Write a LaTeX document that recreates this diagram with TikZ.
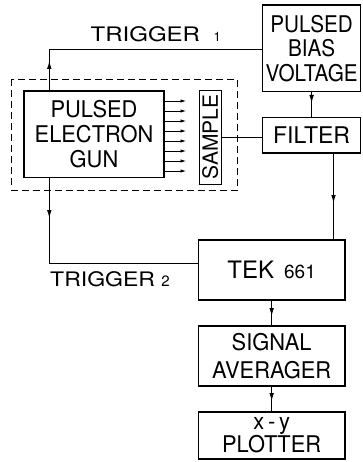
\documentclass[tikz,border=0pt]{standalone}
\usepackage{fontspec}
\setmainfont{TeX Gyre Heros}
\newfontfamily\hv{TeX Gyre Heros}
\newfontfamily\hvA[FakeStretch=0.95]{TeX Gyre Heros}
\newfontfamily\hvB[FakeStretch=0.9]{TeX Gyre Heros}
\newfontfamily\hvW[FakeStretch=1.2]{TeX Gyre Heros}
\newfontfamily\hvV[FakeStretch=1.15]{TeX Gyre Heros}
\usetikzlibrary{arrows.meta}
\begin{document}
\begin{tikzpicture}[x=1pt,y=-1pt,
  box/.style={draw, line width=1.1pt, inner sep=0pt, align=center},
  conn/.style={line width=0.8pt},
  tipline/.style={line width=0.8pt, -{Latex[length=8pt,width=4.6pt]}},
  beam/.style={line width=0.7pt, -{Latex[length=5.5pt,width=3.4pt]}},
  lbl/.style={anchor=base west, inner sep=0pt}
]
\useasboundingbox (0,0) rectangle (362,462);

% dashed enclosure
\draw[line width=0.8pt, dash pattern=on 7pt off 4pt] (11.7,79.5) rectangle (237.3,190.5);

% boxes
\node[box, minimum width=140pt, minimum height=86.5pt, font=\hvA\fontsize{23}{25}\selectfont] (gun) at (94,134.25) {PULSED\\ELECTRON\\GUN};
\node[box, minimum width=98.5pt, minimum height=86.7pt, font=\hvB\fontsize{23}{24.5}\selectfont] (bias) at (311.6,48.4) {PULSED\\BIAS\\VOLTAGE};
\node[box, minimum width=98.5pt, minimum height=35.7pt, font=\hv\fontsize{23}{25}\selectfont] (filter) at (311.6,135.2) {FILTER};
\node[box, line width=0.9pt, minimum width=21.7pt, minimum height=94.3pt, font=\hv\fontsize{21}{21}\selectfont] (sample) at (210.15,137.15) {\rotatebox{90}{SAMPLE}};
\node[box, minimum width=146.7pt, minimum height=60pt, font=\hv\fontsize{24}{24}\selectfont] (tek) at (271.65,270) {TEK\hspace{10pt}{\fontsize{19}{19}\selectfont 661}};
\node[box, minimum width=146.7pt, minimum height=60pt, font=\hvA\fontsize{23}{28.3}\selectfont] (signal) at (271.65,356) {SIGNAL\\AVERAGER};
\node[box, minimum width=146.7pt, minimum height=47pt, font=\hvA\fontsize{23}{21.7}\selectfont] (plotter) at (271.65,435.5) {x\,-\,y\\PLOTTER};

% labels
\node[lbl, font=\hvW\fontsize{20}{20}\selectfont] (trig1) at (90.5,41.7) {TRIGGER\hspace{13.5pt}{\hv\fontsize{13}{13}\selectfont 1}};
\node[lbl, font=\hvV\fontsize{20}{20}\selectfont] (trig2) at (50,286.7) {TRIGGER\hspace{6.5pt}{\hv\fontsize{15}{15}\selectfont 2}};

% coordinates
\coordinate (t1) at (49.3,49.3);
\coordinate (t2) at (49.3,263);
\coordinate (fx) at (333.5,153);
\coordinate (a1) at (49.3,61);
\coordinate (a2) at (49.3,218);
\coordinate (a3) at (311.6,103);
\coordinate (a4) at (333.5,203);
\coordinate (a5) at (271.65,316);
\coordinate (a6) at (271.65,401);

% connectors
\draw[conn] (gun.north -| t1) -- (t1) -- (t1 -| bias.west);
\draw[tipline] (gun.north -| t1) -- (a1);
\draw[conn] (gun.south -| t2) -- (t2) -- (t2 -| tek.west);
\draw[tipline] (gun.south -| t2) -- (a2);
\draw[conn] (bias.south) -- (filter.north);
\draw[tipline] (bias.south) -- (a3);
\draw[conn] (filter.south -| fx) -- (tek.north -| fx);
\draw[tipline] (filter.south -| fx) -- (a4);
\draw[conn] (tek.south) -- (signal.north);
\draw[tipline] (tek.south) -- (a5);
\draw[conn] (signal.south) -- (plotter.north);
\draw[tipline] (signal.south) -- (a6);
\draw[conn] (sample.east) -- (sample.east -| filter.west);

% electron beam
\foreach \i in {0,...,7}{
  \coordinate (b\i) at (186,{101+10*\i});
  \draw[beam] (gun.east |- b\i) -- (b\i);
}
\end{tikzpicture}
\end{document}
